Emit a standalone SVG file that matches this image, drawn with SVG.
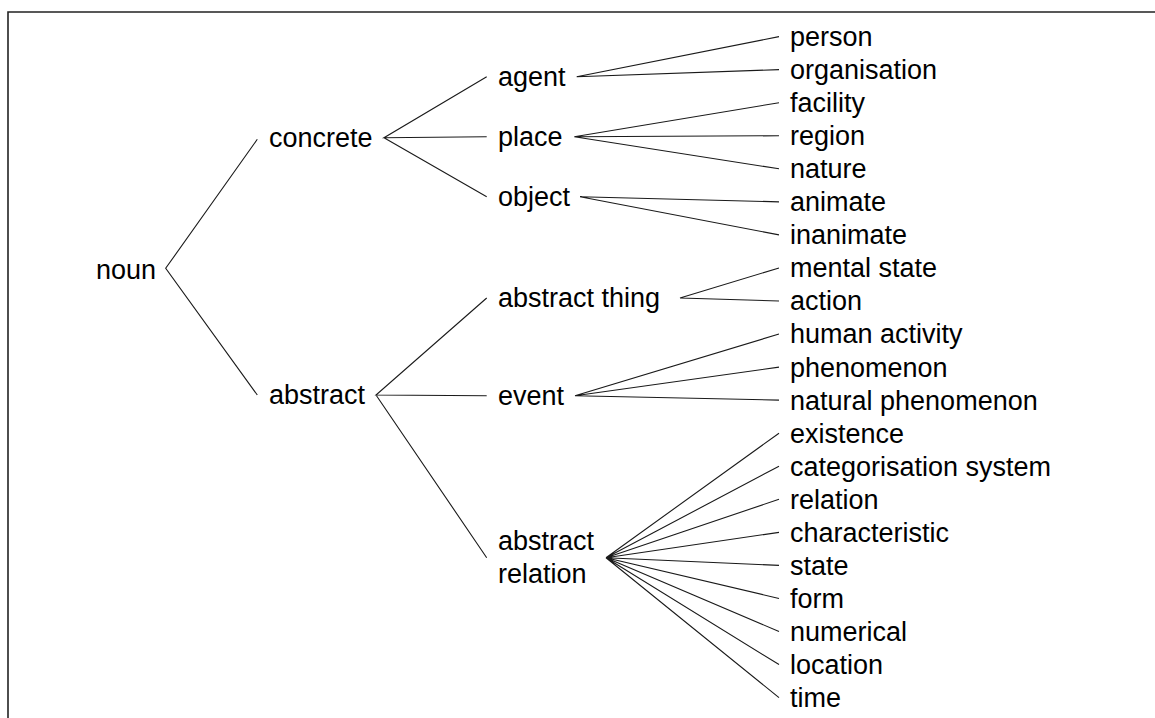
<svg xmlns="http://www.w3.org/2000/svg" width="1155" height="718" viewBox="0 0 1155 718">
  <style>
    text { font-family: "Liberation Sans", Arial, sans-serif; font-size: 27px; fill: #000; }
    .edge { stroke: #1a1a1a; stroke-width: 1.1; fill: none; }
    .frame { stroke: #222; stroke-width: 1.6; fill: none; }
  </style>
  <rect width="1155" height="718" fill="#fff"/>
  <!-- open frame: top and left edges only -->
  <path class="frame" d="M1156 12 H8 V720"/>

  <g id="connectors">
    <!-- noun -->
    <path class="edge" d="M257.3 139.3 L165.7 268.3 L257.3 395"/>
    <!-- concrete -->
    <path class="edge" d="M486.7 76.7 L384 137.7 L486.7 136.7 M384 137.7 L486.7 196.7"/>
    <!-- abstract -->
    <path class="edge" d="M486.7 298 L376 395 L486.7 395.7 M376 395 L486.7 557.7"/>
    <!-- agent -->
    <path class="edge" d="M779 36.6 L576.7 76.7 L779 69.65"/>
    <!-- place -->
    <path class="edge" d="M779 102.7 L574.3 136.7 L779 135.75 M574.3 136.7 L779 168.8"/>
    <!-- object -->
    <path class="edge" d="M779 201.85 L580 196.7 L779 234.9"/>
    <!-- abstract thing -->
    <path class="edge" d="M779 267.95 L680 298 L779 301"/>
    <!-- event -->
    <path class="edge" d="M779 334.05 L575 395.7 L779 367.1 M575 395.7 L779 400.15"/>
    <!-- abstract relation -->
    <path class="edge" d="M606 557.7 L779 433.2 M606 557.7 L779 466.25 M606 557.7 L779 499.3 M606 557.7 L779 532.35 M606 557.7 L779 565.4 M606 557.7 L779 598.45 M606 557.7 L779 631.5 M606 557.7 L779 664.55 M606 557.7 L779 697.6"/>
  </g>

  <g id="noun"><text x="96" y="279">noun</text></g>
  <g id="concrete"><text x="269" y="147">concrete</text></g>
  <g id="abstract"><text x="269" y="404">abstract</text></g>

  <g id="agent"><text x="498" y="86">agent</text></g>
  <g id="place"><text x="498" y="146">place</text></g>
  <g id="object"><text x="498" y="206">object</text></g>
  <g id="abstract-thing"><text x="498" y="307">abstract thing</text></g>
  <g id="event"><text x="498" y="405">event</text></g>
  <g id="abstract-relation"><text x="498" y="550">abstract</text><text x="498" y="583">relation</text></g>

  <g id="person"><text x="790" y="46">person</text></g>
  <g id="organisation"><text x="790" y="79.05">organisation</text></g>
  <g id="facility"><text x="790" y="112.1">facility</text></g>
  <g id="region"><text x="790" y="145.15">region</text></g>
  <g id="nature"><text x="790" y="178.2">nature</text></g>
  <g id="animate"><text x="790" y="211.25">animate</text></g>
  <g id="inanimate"><text x="790" y="244.3">inanimate</text></g>
  <g id="mental-state"><text x="790" y="277.35">mental state</text></g>
  <g id="action"><text x="790" y="310.4">action</text></g>
  <g id="human-activity"><text x="790" y="343.45">human activity</text></g>
  <g id="phenomenon"><text x="790" y="376.5">phenomenon</text></g>
  <g id="natural-phenomenon"><text x="790" y="409.55">natural phenomenon</text></g>
  <g id="existence"><text x="790" y="442.6">existence</text></g>
  <g id="categorisation-system"><text x="790" y="475.65">categorisation system</text></g>
  <g id="relation"><text x="790" y="508.7">relation</text></g>
  <g id="characteristic"><text x="790" y="541.75">characteristic</text></g>
  <g id="state"><text x="790" y="574.8">state</text></g>
  <g id="form"><text x="790" y="607.85">form</text></g>
  <g id="numerical"><text x="790" y="640.9">numerical</text></g>
  <g id="location"><text x="790" y="673.95">location</text></g>
  <g id="time"><text x="790" y="707">time</text></g>
</svg>
